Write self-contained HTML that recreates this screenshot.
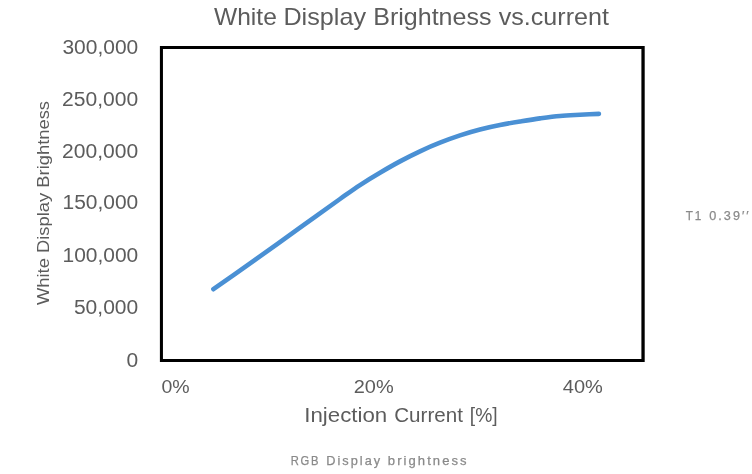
<!DOCTYPE html>
<html>
<head>
<meta charset="utf-8">
<title>White Display Brightness vs.current</title>
<style>
html,body{margin:0;padding:0;background:#fff;}
body{width:752px;height:474px;overflow:hidden;font-family:"Liberation Sans",sans-serif;}
svg{display:block;}
text{font-family:"Liberation Sans",sans-serif;fill:#5c5c5c;}
.cap{fill:#8a8a8a;stroke:#8a8a8a;stroke-width:0.25px;}
</style>
</head>
<body>
<svg width="752" height="474" viewBox="0 0 752 474">
<rect x="0" y="0" width="752" height="474" fill="#ffffff"/>
<text id="title"><tspan x="214.00" y="25.0" font-size="23.6" textLength="62.80" lengthAdjust="spacingAndGlyphs">White</tspan> <tspan x="283.43" y="25.0" font-size="23.6" textLength="82.57" lengthAdjust="spacingAndGlyphs">Display</tspan> <tspan x="373.24" y="25.0" font-size="23.6" textLength="118.24" lengthAdjust="spacingAndGlyphs">Brightness</tspan> <tspan x="498.70" y="25.0" font-size="23.6" textLength="110.21" lengthAdjust="spacingAndGlyphs">vs.current</tspan></text>
<path d="M159.9 46.1H644.7V361.9H159.9Z M162.95 49.1V358.95H641.4V49.1Z" fill="#000" fill-rule="evenodd"/>
<g id="yticks">
<text><tspan x="62.44" y="53.9" font-size="20.3" textLength="75.78" lengthAdjust="spacingAndGlyphs">300,000</tspan></text>
<text><tspan x="62.11" y="106.0" font-size="20.3" textLength="76.11" lengthAdjust="spacingAndGlyphs">250,000</tspan></text>
<text><tspan x="62.11" y="157.8" font-size="20.3" textLength="76.11" lengthAdjust="spacingAndGlyphs">200,000</tspan></text>
<text><tspan x="62.49" y="209.0" font-size="20.3" textLength="75.73" lengthAdjust="spacingAndGlyphs">150,000</tspan></text>
<text><tspan x="62.49" y="261.5" font-size="20.3" textLength="75.73" lengthAdjust="spacingAndGlyphs">100,000</tspan></text>
<text><tspan x="73.94" y="313.5" font-size="20.3" textLength="64.28" lengthAdjust="spacingAndGlyphs">50,000</tspan></text>
<text><tspan x="126.64" y="366.9" font-size="20.3" textLength="11.68" lengthAdjust="spacingAndGlyphs">0</tspan></text>
</g>
<g id="xticks">
<text><tspan x="161.49" y="392.7" font-size="18.9" textLength="28.19" lengthAdjust="spacingAndGlyphs">0%</tspan></text>
<text><tspan x="353.76" y="392.7" font-size="18.9" textLength="39.93" lengthAdjust="spacingAndGlyphs">20%</tspan></text>
<text><tspan x="562.89" y="392.7" font-size="18.9" textLength="40.01" lengthAdjust="spacingAndGlyphs">40%</tspan></text>
</g>
<text id="xtitle"><tspan x="304.26" y="421.9" font-size="20.5" textLength="82.99" lengthAdjust="spacingAndGlyphs">Injection</tspan> <tspan x="394.23" y="421.9" font-size="20.5" textLength="68.70" lengthAdjust="spacingAndGlyphs">Current</tspan> <tspan x="469.80" y="421.9" font-size="20.5" textLength="27.84" lengthAdjust="spacingAndGlyphs">[%]</tspan></text>
<text id="ytitle" transform="translate(49.4,305) rotate(-90)" font-size="16.5" textLength="204" lengthAdjust="spacingAndGlyphs">White Display Brightness</text>
<path d="M213.4 289.2 C227.3 279.4 241.1 269.7 255.0 259.9 C270.0 249.2 285.0 238.4 300.0 227.7 C313.3 218.1 326.7 208.5 340.0 199.0 C346.7 194.3 353.3 189.5 360.0 185.1 C366.7 180.7 373.3 176.6 380.0 172.7 C386.7 168.8 393.3 165.0 400.0 161.4 C406.7 157.8 413.3 154.4 420.0 151.3 C426.7 148.2 433.3 145.3 440.0 142.7 C446.7 140.0 453.3 137.6 460.0 135.4 C466.7 133.2 473.3 131.2 480.0 129.5 C486.7 127.8 493.3 126.3 500.0 125.0 C506.7 123.7 513.3 122.6 520.0 121.5 C526.7 120.4 533.3 119.3 540.0 118.4 C546.7 117.5 553.3 116.6 560.0 116.0 C566.7 115.4 573.3 115.1 580.0 114.7 C586.3 114.4 592.6 114.2 598.9 113.9" fill="none" stroke="#4a90d4" stroke-width="4.6" stroke-linecap="round" stroke-linejoin="round"/>
<text id="side" class="cap"><tspan x="685.77" y="219.9" font-size="12.7" letter-spacing="2.0" textLength="17.34" lengthAdjust="spacingAndGlyphs">T1</tspan> <tspan x="709.35" y="219.9" font-size="12.7" letter-spacing="2.0" textLength="41.27" lengthAdjust="spacingAndGlyphs">0.39′′</tspan></text>
<text id="caption" class="cap"><tspan x="290.72" y="464.9" font-size="12.7" letter-spacing="2.0" textLength="29.60" lengthAdjust="spacingAndGlyphs">RGB</tspan> <tspan x="326.30" y="464.9" font-size="12.7" letter-spacing="2.0" textLength="55.81" lengthAdjust="spacingAndGlyphs">Display</tspan> <tspan x="387.88" y="464.9" font-size="12.7" letter-spacing="2.0" textLength="80.74" lengthAdjust="spacingAndGlyphs">brightness</tspan></text>
</svg>
</body>
</html>
